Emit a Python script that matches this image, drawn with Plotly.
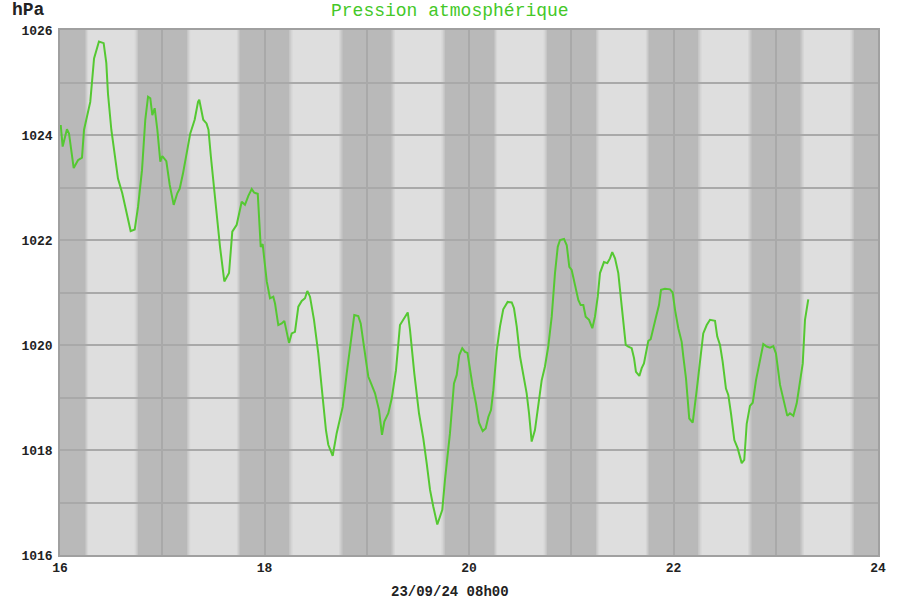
import plotly.graph_objects as go

# ---- data (day of month, September 2024) ----
day = [16.007, 16.026, 16.068, 16.088, 16.134, 16.176, 16.215, 16.235, 16.296, 16.333,
       16.381, 16.427, 16.453, 16.469, 16.502, 16.535, 16.567, 16.609, 16.643, 16.691,
       16.731, 16.763, 16.802, 16.834, 16.861, 16.883, 16.903, 16.926, 16.952, 16.981,
       17.000, 17.040, 17.073, 17.112, 17.147, 17.171, 17.203, 17.235, 17.274, 17.317,
       17.350, 17.362, 17.401, 17.433, 17.452, 17.475, 17.516, 17.565, 17.607, 17.653,
       17.685, 17.728, 17.777, 17.809, 17.842, 17.875, 17.900, 17.934, 17.963, 17.982,
       18.022, 18.054, 18.086, 18.103, 18.135, 18.168, 18.194, 18.240, 18.266, 18.298,
       18.331, 18.364, 18.396, 18.419, 18.445, 18.484, 18.526, 18.569, 18.601, 18.624,
       18.667, 18.706, 18.765, 18.804, 18.843, 18.878, 18.917, 18.941, 18.973, 19.015,
       19.048, 19.081, 19.120, 19.149, 19.172, 19.211, 19.244, 19.286, 19.325, 19.364,
       19.401, 19.423, 19.465, 19.511, 19.553, 19.586, 19.619, 19.651, 19.690, 19.739,
       19.765, 19.814, 19.853, 19.880, 19.905, 19.934, 19.961, 19.985, 20.010, 20.036,
       20.068, 20.098, 20.134, 20.163, 20.189, 20.215, 20.238, 20.271, 20.303, 20.335,
       20.378, 20.418, 20.440, 20.467, 20.499, 20.531, 20.564, 20.587, 20.613, 20.645,
       20.678, 20.711, 20.743, 20.775, 20.809, 20.841, 20.868, 20.890, 20.929, 20.956,
       20.981, 21.004, 21.037, 21.069, 21.092, 21.118, 21.141, 21.174, 21.206, 21.232,
       21.259, 21.281, 21.320, 21.353, 21.379, 21.401, 21.428, 21.460, 21.494, 21.533,
       21.558, 21.591, 21.614, 21.633, 21.666, 21.689, 21.711, 21.738, 21.754, 21.777,
       21.797, 21.826, 21.858, 21.878, 21.917, 21.966, 21.992, 22.015, 22.047, 22.080,
       22.096, 22.122, 22.154, 22.188, 22.227, 22.259, 22.291, 22.325, 22.357, 22.406,
       22.428, 22.455, 22.481, 22.513, 22.536, 22.562, 22.595, 22.628, 22.667, 22.692,
       22.716, 22.748, 22.775, 22.807, 22.839, 22.878, 22.911, 22.944, 22.976, 23.002,
       23.042, 23.074, 23.113, 23.139, 23.172, 23.205, 23.237, 23.264, 23.286, 23.318]

pressure = [1024.19, 1023.78, 1024.11, 1024.03, 1023.37, 1023.52, 1023.57, 1024.10, 1024.63, 1025.46,
            1025.78, 1025.75, 1025.37, 1024.79, 1024.10, 1023.65, 1023.17, 1022.89, 1022.57, 1022.17,
            1022.20, 1022.63, 1023.33, 1024.29, 1024.73, 1024.70, 1024.38, 1024.51, 1024.10, 1023.49,
            1023.60, 1023.50, 1023.05, 1022.67, 1022.89, 1022.98, 1023.27, 1023.62, 1024.03, 1024.29,
            1024.63, 1024.67, 1024.29, 1024.22, 1024.10, 1023.60, 1022.76, 1021.87, 1021.21, 1021.37,
            1022.16, 1022.29, 1022.73, 1022.67, 1022.84, 1022.97, 1022.90, 1022.88, 1021.87, 1021.92,
            1021.21, 1020.89, 1020.92, 1020.79, 1020.38, 1020.41, 1020.46, 1020.04, 1020.22, 1020.25,
            1020.73, 1020.84, 1020.89, 1021.03, 1020.92, 1020.48, 1019.84, 1019.02, 1018.38, 1018.10,
            1017.89, 1018.32, 1018.82, 1019.46, 1020.10, 1020.57, 1020.55, 1020.41, 1019.97, 1019.40,
            1019.24, 1019.08, 1018.76, 1018.29, 1018.54, 1018.70, 1018.98, 1019.52, 1020.38, 1020.51,
            1020.62, 1020.29, 1019.46, 1018.70, 1018.22, 1017.75, 1017.24, 1016.92, 1016.58, 1016.86,
            1017.43, 1018.32, 1019.27, 1019.43, 1019.81, 1019.94, 1019.87, 1019.85, 1019.49, 1019.21,
            1018.89, 1018.52, 1018.36, 1018.41, 1018.63, 1018.76, 1019.14, 1019.90, 1020.35, 1020.68,
            1020.82, 1020.81, 1020.70, 1020.35, 1019.78, 1019.46, 1019.08, 1018.70, 1018.16, 1018.38,
            1018.82, 1019.33, 1019.59, 1019.97, 1020.54, 1021.37, 1021.87, 1022.00, 1022.02, 1021.90,
            1021.49, 1021.43, 1021.14, 1020.86, 1020.76, 1020.76, 1020.54, 1020.48, 1020.32, 1020.54,
            1020.92, 1021.37, 1021.58, 1021.56, 1021.65, 1021.77, 1021.65, 1021.37, 1020.73, 1020.00,
            1019.97, 1019.94, 1019.75, 1019.49, 1019.41, 1019.56, 1019.65, 1019.97, 1020.08, 1020.11,
            1020.29, 1020.51, 1020.76, 1021.05, 1021.07, 1021.06, 1021.00, 1020.67, 1020.32, 1020.06,
            1019.78, 1019.37, 1018.60, 1018.52, 1019.14, 1019.65, 1020.22, 1020.38, 1020.48, 1020.46,
            1020.16, 1020.00, 1019.68, 1019.17, 1019.05, 1018.70, 1018.19, 1018.03, 1017.75, 1017.81,
            1018.50, 1018.84, 1018.90, 1019.33, 1019.65, 1020.02, 1019.97, 1019.95, 1019.98, 1019.84,
            1019.24, 1018.98, 1018.65, 1018.70, 1018.65, 1018.89, 1019.33, 1019.65, 1020.48, 1020.87]

# night periods (dark bands)
night_start = [16.0, 16.76, 17.76, 18.76, 19.76, 20.76, 21.76, 22.76, 23.76]
night_end = [16.245, 17.245, 18.245, 19.245, 20.245, 21.245, 22.245, 23.245, 24.0]

x_ticks = [16, 17, 18, 19, 20, 21, 22, 23, 24]
x_text = ["16", "", "18", "", "20", "", "22", "", "24"]
y_ticks = [1016, 1017, 1018, 1019, 1020, 1021, 1022, 1023, 1024, 1025, 1026]
y_text = ["1016", "", "1018", "", "1020", "", "1022", "", "1024", "", "1026"]

title_text = "Pression atmosphérique"
unit_text = "hPa"
caption_text = "23/09/24 08h00"

# ---- style ----
DARK = "#b9b9b9"
LIGHT = "#dedede"
GRID = "#a9a9a9"
LINE = "#55c832"
TITLE = "#44c828"
FONT = "Liberation Mono"
PX = 8.0 / 818.0  # one pixel in days
PW, PH = 818, 525  # plot area size in px

fig = go.Figure()
fig.add_trace(go.Scatter(x=day, y=pressure, mode="lines",
                         line=dict(color=LINE, width=2), hoverinfo="x+y"))

shapes = []
for s, e in zip(night_start, night_end):
    shapes.append(dict(type="rect", xref="x", yref="paper", x0=s, x1=e, y0=0, y1=1,
                       fillcolor=DARK, line=dict(width=0), layer="below"))
    # soft edges
    for k, col in enumerate(["#c1c1c1", "#cbcbcb", "#d5d5d5"]):
        if s > 16.0:
            shapes.append(dict(type="rect", xref="x", yref="paper",
                               x0=s - (k + 1) * PX, x1=s - k * PX, y0=0, y1=1,
                               fillcolor=col, line=dict(width=0), layer="below"))
        if e < 24.0:
            shapes.append(dict(type="rect", xref="x", yref="paper",
                               x0=e + k * PX, x1=e + (k + 1) * PX, y0=0, y1=1,
                               fillcolor=col, line=dict(width=0), layer="below"))

fig.update_layout(
    width=900, height=600,
    margin=dict(l=60, r=22, t=30, b=45, autoexpand=False),
    paper_bgcolor="white", plot_bgcolor=LIGHT,
    showlegend=False,
    shapes=shapes,
    annotations=[
        dict(text=title_text, xref="paper", yref="paper", x=(450 - 60) / PW, y=1 + 18.5 / PH,
             xanchor="center", yanchor="middle", showarrow=False,
             font=dict(family=FONT, size=18, color=TITLE)),
        dict(text=unit_text, xref="paper", yref="paper", x=(10 - 60) / PW, y=1 + 20 / PH,
             xanchor="left", yanchor="middle", showarrow=False,
             font=dict(family=FONT, size=18, color="#222222", weight="bold")),
        dict(text=caption_text, xref="paper", yref="paper", x=(449.5 - 60) / PW, y=-37 / PH,
             xanchor="center", yanchor="middle", showarrow=False,
             font=dict(family=FONT, size=14, color="#222222", weight="bold")),
    ],
)
fig.update_xaxes(range=[16, 24], tickmode="array", tickvals=x_ticks, ticktext=x_text,
                 showgrid=True, gridcolor=GRID, gridwidth=1.5, zeroline=False, automargin=False,
                 showline=True, linecolor="#a0a0a0", linewidth=1.5, mirror=True, ticks="",
                 tickfont=dict(family=FONT, size=13, color="#222222", weight="bold"))
fig.update_yaxes(range=[1016, 1026], tickmode="array", tickvals=y_ticks, ticktext=y_text,
                 showgrid=True, gridcolor=GRID, gridwidth=1.5, zeroline=False, automargin=False,
                 showline=True, linecolor="#a0a0a0", linewidth=1.5, mirror=True, ticks="",
                 ticklabelstandoff=3,
                 tickfont=dict(family=FONT, size=13, color="#222222", weight="bold"))

# remove the default page margin so the 900x600 figure fills the window exactly
fig.write_html("out.html", config={"displayModeBar": False},
               post_script="document.body.style.margin='0';document.body.style.overflow='hidden';")
